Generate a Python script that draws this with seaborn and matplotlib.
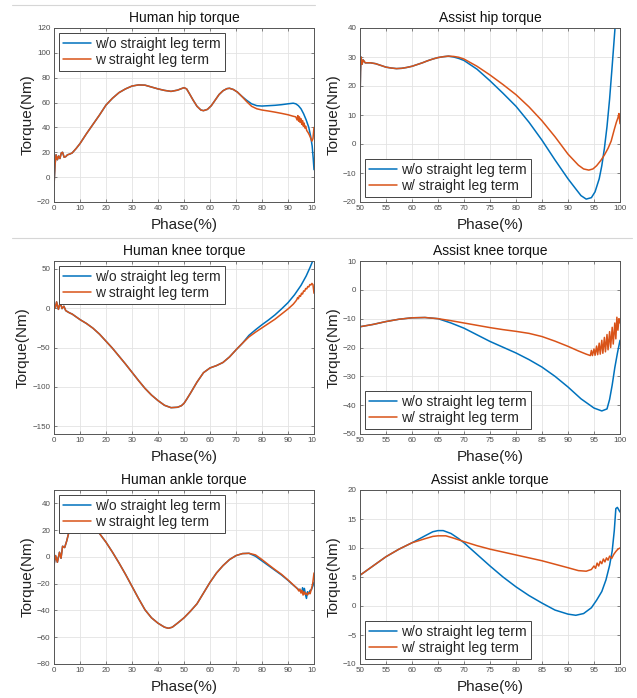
import numpy as np
import pandas as pd
import matplotlib
matplotlib.use("Agg")
import matplotlib.pyplot as plt
from matplotlib.lines import Line2D
from matplotlib.transforms import Bbox, TransformedBbox
import seaborn as sns

# ---- data (phase %, torque Nm) ----
# Human hip: shared part then the two branches
hip_h_x = [0, 0.4, 0.8, 1.3, 1.8, 2.3, 2.8, 3.3, 3.9, 4.5, 5.2, 6, 7, 8.5, 10, 12.5, 15, 17.5, 20,
           22.5, 25, 27.5, 30, 32.5, 35, 37.5, 40, 42.5, 45, 47.5, 50, 51, 52, 53.5, 55, 56.5, 57.5,
           59, 60.5, 62, 63.5, 65, 66.5, 67.5, 69, 70.5, 72]
hip_h_y = [-7, 10, 18, 14, 17, 15, 19.5, 20, 16, 16.5, 18, 18.5, 19.5, 23, 27, 35, 42.5, 50, 58,
           63.5, 68, 71, 73.3, 74.2, 74, 72.5, 71, 69.8, 69, 70, 72, 71, 67.5, 62, 57, 54, 53.5,
           54.5, 57.5, 62, 66.5, 69.5, 71.2, 71.5, 70.5, 68.5, 65.5]
hip_h_wo_x = [74, 76, 78, 80, 82.5, 85, 87.5, 90, 92, 93, 94, 95, 96, 97, 98, 98.7, 99.3, 99.7, 100]
hip_h_wo_y = [62, 59, 57.5, 57.2, 57.5, 57.8, 58.3, 59, 59.5, 59, 57.5, 55, 51, 46, 40, 33, 25, 15, 6]
hip_h_w_x = [74, 76, 78, 80, 82.5, 85, 87.5, 90, 92, 93, 93.5, 93.8, 94.1, 94.4, 94.7, 95, 95.3,
             95.6, 95.9, 96.2, 96.5, 96.8, 97.2, 97.7, 98.2, 98.7, 99.2, 99.6, 100]
hip_h_w_y = [61, 57, 55, 54, 53.2, 52.3, 51.3, 50.2, 49, 48.5, 46, 49.5, 45, 48.5, 44, 47, 42.5,
             45.5, 41, 43.5, 39.5, 41, 37.5, 36, 34, 31.5, 29, 31, 40]

# Assist hip
hip_a_x = [50, 50.1, 50.2, 50.4, 50.6, 51, 52, 53, 54, 55, 56, 57, 58, 59, 60, 61, 62, 63, 64,
           65, 66, 67]
hip_a_y = [14, 25, 30, 27.5, 29, 28, 28, 27.7, 27.1, 26.5, 26.2, 26, 26.1, 26.4, 26.8, 27.4, 28,
           28.7, 29.3, 29.8, 30.1, 30.3]
hip_a_wo_x = [68, 69, 70, 72.5, 75, 77.5, 80, 82.5, 85, 87.5, 90, 91.5, 92.5, 93.5, 94.5, 95.2,
              96, 96.5, 97, 97.5, 98, 98.5, 99, 99.5]
hip_a_wo_y = [30, 29.5, 28.8, 25.8, 21.8, 17.5, 13, 7.5, 1.3, -5.5, -12, -15.5, -17.8, -19, -18.5,
              -16.5, -12, -7.5, -1.5, 6, 15.5, 27, 39, 52]
hip_a_w_x = [68, 69, 70, 72.5, 75, 77.5, 80, 82.5, 85, 87.5, 90, 92, 93, 94, 94.8, 95.5, 96.3, 97,
             97.7, 98.3, 98.9, 99.3, 99.6, 99.8, 100]
hip_a_w_y = [30.2, 29.9, 29.3, 26.8, 23.8, 20.5, 17, 12.8, 8, 2.5, -3.5, -7.3, -8.6, -9, -8.6,
             -7.5, -5.7, -3.8, -1.5, 1, 5, 7.5, 9, 10.5, 7]

# Human knee
knee_h_x = [0, 0.5, 1, 1.7, 2.4, 3.1, 3.8, 4.5, 5.2, 6, 7, 8.5, 10, 12.5, 15, 17.5, 20, 22.5, 25,
            27.5, 30, 32.5, 35, 37.5, 40, 42.5, 45, 47.5, 49, 50, 51, 52.5, 55, 57.5, 60, 62.5,
            65, 67.5, 70, 72.5]
knee_h_y = [6, 0, 8, -1.5, 7, -0.5, 2.5, -3, -4.5, -6, -7.5, -11, -14.5, -19.5, -25.5, -33, -42,
            -51, -61, -71, -81.5, -92, -102, -110.5, -117.5, -123.5, -126.5, -126, -124, -121,
            -116, -108, -94, -82, -76, -73, -69, -62, -53, -44.5]
knee_h_wo_x = [75, 77.5, 80, 82.5, 85, 87.5, 90, 92.5, 95, 97, 98.5, 99.5, 100]
knee_h_wo_y = [-34.5, -27.5, -21, -15, -8.5, -1, 7, 17, 29, 41, 52, 60, 64]
knee_h_w_x = [75, 77.5, 80, 82.5, 85, 87.5, 90, 92, 93, 93.4, 93.7, 94, 94.4, 94.8, 95.2, 95.6,
              96, 96.4, 96.8, 97.2, 97.6, 98, 98.4, 98.8, 99.2, 99.6, 100]
knee_h_w_y = [-36.5, -30.5, -25, -19.5, -14, -7.5, -1, 5, 9, 11, 13.5, 12, 16, 15, 19, 18, 22,
              21.5, 25, 24.5, 27.5, 27, 30, 29.5, 31.5, 30, 19]

# Assist knee
knee_a_x = [50, 52.5, 55, 57.5, 60, 62.5, 65]
knee_a_y = [-12.8, -12, -11, -10.2, -9.7, -9.6, -10]
knee_a_wo_x = [67.5, 70, 72.5, 75, 77.5, 80, 82.5, 85, 87.5, 90, 92.5, 95, 96.5, 97.5, 98, 98.5,
               99, 99.5, 100]
knee_a_wo_y = [-11.5, -13.3, -15.6, -17.9, -19.9, -21.9, -24.2, -26.8, -30, -33.7, -37.8, -41,
               -42, -41.3, -38, -33, -27, -22, -17.5]
knee_a_w_x = [67.5, 70, 72.5, 75, 77.5, 80, 82.5, 85, 87.5, 90, 92, 93.5, 94.3, 94.5, 94.7, 95,
              95.2, 95.5, 95.7, 96, 96.2, 96.5, 96.7, 97, 97.2, 97.5, 97.7, 98, 98.2, 98.5, 98.7,
              99, 99.2, 99.4, 99.6, 99.8, 100]
knee_a_w_y = [-10.7, -11.5, -12.3, -13.1, -13.8, -14.4, -15.1, -16.2, -17.8, -19.6, -21.2, -22.3,
              -22.8, -21, -22.8, -20.5, -22.7, -19.5, -22.5, -18.5, -22.3, -17.5, -22, -16.5,
              -21.5, -15.5, -20.8, -14.5, -20, -13, -18.8, -11.5, -17, -9.5, -14, -10, -11.5]

# Human ankle
ank_h_x = [0, 0.6, 1.3, 2.1, 2.7, 3.3, 4.1, 4.9, 5.6, 6.4, 8, 10, 12, 14, 16, 17.5, 20, 22.5, 25,
           27.5, 30, 32.5, 35, 37.5, 40, 42.5, 44, 45.5, 47.5, 50, 52.5, 55, 57.5, 60, 62.5, 65,
           67.5, 70, 72.5, 75]
ank_h_y = [-6, 1, -4, 3.5, -1, 8, 7, 12, 17.5, 22, 26, 28, 28, 25.5, 21, 17.5, 11, 3.5, -4.5, -13,
           -22, -31, -39.5, -45.5, -49.5, -52.5, -53.3, -52.5, -49.5, -45.5, -40.5, -35, -27,
           -19, -12, -6.5, -2, 1, 2.5, 2.7]
ank_h_wo_x = [77.5, 80, 82.5, 85, 87.5, 90, 92, 93.5, 94.5, 95.3, 95.6, 96, 96.3, 96.7, 97.1,
              97.5, 98, 98.5, 99, 99.5, 100]
ank_h_wo_y = [0.5, -3, -6.5, -10, -13.5, -17.5, -21, -23.5, -25, -26.5, -23, -27, -23.5, -28,
              -31, -26, -27.5, -25, -24.5, -22, -19]
ank_h_w_x = [77.5, 80, 82.5, 85, 87.5, 90, 92, 93.5, 94.2, 94.6, 95, 95.4, 95.8, 96.2, 96.6, 97,
             97.5, 98, 98.5, 99, 99.5, 100]
ank_h_w_y = [1.5, -2, -5.8, -9.5, -13, -17.2, -20.8, -23.5, -25.5, -24, -27, -25, -28.5, -26,
             -28, -27, -28.5, -26.5, -27.5, -24, -20, -12]

# Assist ankle
ank_a_x = [50, 52.5, 55, 57.5, 60]
ank_a_y = [5.3, 6.9, 8.5, 9.8, 10.9]
ank_a_wo_x = [62.5, 64, 65, 66, 67.5, 69, 70, 72.5, 75, 77.5, 80, 82.5, 85, 87.5, 90, 91.5, 93,
              94.5, 95.5, 96.5, 97.3, 98, 98.5, 98.9, 99.2, 99.5, 100]
ank_a_wo_y = [12.1, 12.8, 13, 13, 12.5, 11.6, 10.9, 8.9, 6.9, 5, 3.3, 1.8, 0.5, -0.7, -1.4, -1.6,
              -1.3, -0.3, 1, 2.5, 4.5, 7, 9.5, 13, 16.8, 17, 16.2]
ank_a_w_x = [62.5, 64, 65, 66.5, 68, 70, 72.5, 75, 77.5, 80, 82.5, 85, 87.5, 90, 92, 93.5, 94.5,
             95, 95.3, 95.6, 95.9, 96.2, 96.5, 96.8, 97.1, 97.4, 97.7, 98, 98.4, 98.8, 99.2,
             99.6, 100]
ank_a_w_y = [11.6, 12, 12.1, 12.1, 11.7, 11.1, 10.4, 9.8, 9.3, 8.8, 8.3, 7.8, 7.2, 6.6, 6.1, 6,
             6.3, 6.9, 6.5, 7.4, 6.9, 7.7, 7.3, 8.1, 7.6, 8.3, 7.9, 8.6, 8.2, 8.9, 9.4, 9.8, 10]

titles = ["Human hip torque", "Assist hip torque",
          "Human knee torque", "Assist knee torque",
          "Human ankle torque", "Assist ankle torque"]
ylims = [(-20, 120), (-20, 40), (-160, 60), (-50, 10), (-80, 50), (-10, 20)]
yticks = [list(range(-20, 121, 20)), list(range(-20, 41, 10)),
          list(range(-150, 51, 50)), list(range(-50, 11, 10)),
          list(range(-80, 41, 20)), list(range(-10, 21, 5))]
left_xticks = list(range(0, 101, 10))
right_xticks = list(range(50, 101, 5))
label_wo = "w/o straight leg term"
label_w_left = "w straight leg term"
label_w_right = "w/ straight leg term"

panels = [
    (hip_h_x, hip_h_y, hip_h_wo_x, hip_h_wo_y, hip_h_w_x, hip_h_w_y),
    (hip_a_x, hip_a_y, hip_a_wo_x, hip_a_wo_y, hip_a_w_x, hip_a_w_y),
    (knee_h_x, knee_h_y, knee_h_wo_x, knee_h_wo_y, knee_h_w_x, knee_h_w_y),
    (knee_a_x, knee_a_y, knee_a_wo_x, knee_a_wo_y, knee_a_w_x, knee_a_w_y),
    (ank_h_x, ank_h_y, ank_h_wo_x, ank_h_wo_y, ank_h_w_x, ank_h_w_y),
    (ank_a_x, ank_a_y, ank_a_wo_x, ank_a_wo_y, ank_a_w_x, ank_a_w_y),
]

BLUE = "#0072BD"
ORANGE = "#D95319"

sns.set_style("whitegrid", {"grid.color": "#e3e3e3", "axes.edgecolor": "#555555"})
plt.rcParams["font.family"] = ["Liberation Sans", "DejaVu Sans"]

W, H = 637, 698
fig = plt.figure(figsize=(W / 100, H / 100), dpi=100)

# axes boxes in pixels (left, top, right, bottom)
col_px = [(54, 314), (360, 620)]
row_px = [(28, 202), (261, 434), (490, 664)]

left_clip = TransformedBbox(Bbox.from_extents(0, 0, 316 / W, 1), fig.transFigure)

for i, (cx, cy, wox, woy, wx, wy) in enumerate(panels):
    r, c = divmod(i, 2)
    x0, x1 = col_px[c]
    y0, y1 = row_px[r]
    ax = fig.add_axes([x0 / W, 1 - y1 / H, (x1 - x0) / W, (y1 - y0) / H])

    df = pd.concat([
        pd.DataFrame({"phase": cx + wox, "torque": cy + woy, "case": "wo"}),
        pd.DataFrame({"phase": cx + wx, "torque": cy + wy, "case": "w"}),
    ], ignore_index=True)
    sns.lineplot(data=df, x="phase", y="torque", hue="case", hue_order=["wo", "w"],
                 palette=[BLUE, ORANGE], estimator=None, sort=False, lw=1.1,
                 ax=ax, legend=False)

    ax.set_ylim(*ylims[i])
    ax.set_yticks(yticks[i])
    if c == 0:
        ax.set_xlim(0, 100)
        ax.set_xticks(left_xticks)
    else:
        ax.set_xlim(50, 100)
        ax.set_xticks(right_xticks)

    ax.set_title(titles[i], fontsize=10, pad=4, color="#111111")
    ax.set_xlabel("Phase(%)", fontsize=11, labelpad=4, color="#222222")
    ax.set_ylabel("Torque(Nm)", fontsize=11, labelpad=2, color="#222222")
    ax.tick_params(axis="both", which="both", direction="in", length=2.5, width=0.5,
                   top=True, right=True, bottom=True, left=True,
                   labelsize=5.8, labelcolor="#4d4d4d", color="#555555", pad=2.5)
    ax.grid(True, color="#e3e3e3", lw=0.6)
    for s in ax.spines.values():
        s.set_linewidth(0.7)
        s.set_color("#555555")

    handles = [Line2D([], [], color=BLUE, lw=1.1), Line2D([], [], color=ORANGE, lw=1.1)]
    labels = [label_wo, label_w_left if c == 0 else label_w_right]
    leg = ax.legend(handles, labels, loc="upper left" if c == 0 else "lower left",
                    fontsize=10, frameon=True, fancybox=False, framealpha=1,
                    edgecolor="#444444", handlelength=2.0, handletextpad=0.3,
                    borderpad=0.3, labelspacing=0.15, borderaxespad=0.35)
    leg.get_frame().set_linewidth(0.7)

    if c == 0:
        for t in ax.get_xticklabels():
            t.set_clip_box(left_clip)
            t.set_clip_on(True)

# thin separator rules between the pasted sub-figures
for (xa, xb, yy) in [(12, 315, 5), (12, 632, 238)]:
    fig.add_artist(Line2D([xa / W, xb / W], [1 - yy / H, 1 - yy / H],
                          transform=fig.transFigure, color="#d6d6d6", lw=0.8))

fig.savefig("out.png", dpi=100)
